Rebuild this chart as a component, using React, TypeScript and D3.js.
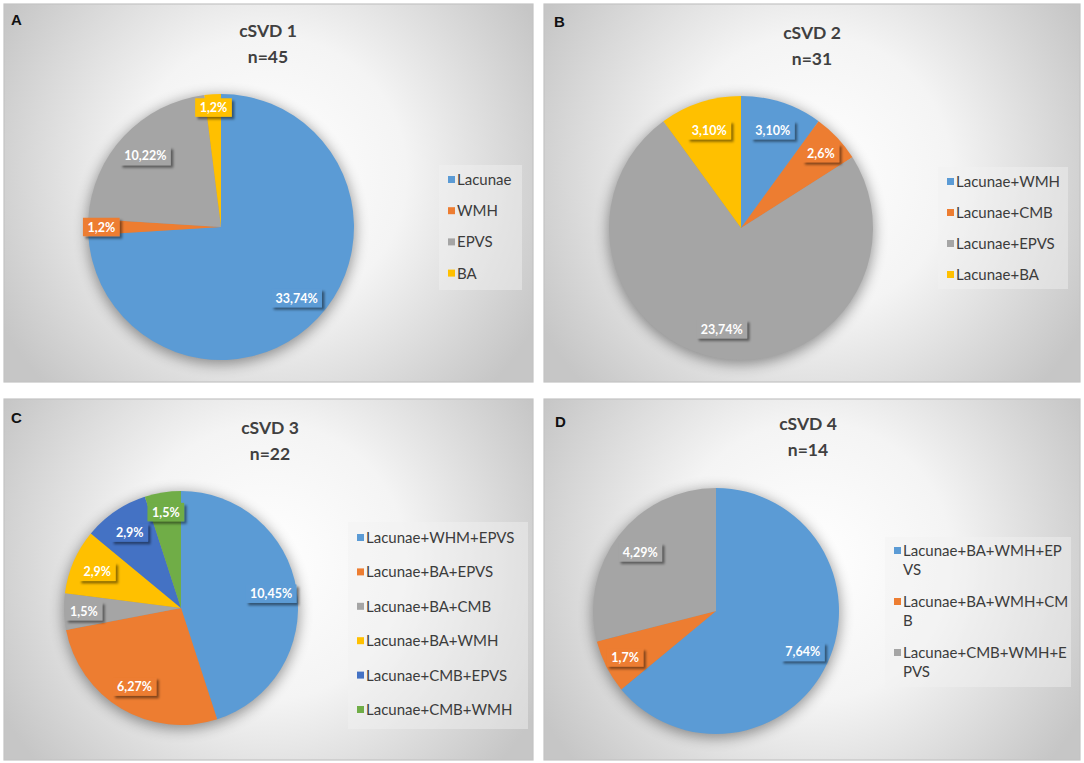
import * as d3 from "d3";

// panel A
const catsA = ["Lacunae", "WMH", "EPVS", "BA"];
const countsA = [33, 1, 10, 1];
const pctA = [74, 2, 22, 2];
// panel B
const catsB = ["Lacunae+WMH", "Lacunae+CMB", "Lacunae+EPVS", "Lacunae+BA"];
const countsB = [3, 2, 23, 3];
const pctB = [10, 6, 74, 10];
// panel C
const catsC = [
  "Lacunae+WHM+EPVS",
  "Lacunae+BA+EPVS",
  "Lacunae+BA+CMB",
  "Lacunae+BA+WMH",
  "Lacunae+CMB+EPVS",
  "Lacunae+CMB+WMH",
];
const countsC = [10, 6, 1, 2, 2, 1];
const pctC = [45, 27, 5, 9, 9, 5];
// panel D (legend labels wrap in the original)
const catsD = [
  ["Lacunae+BA+WMH+EP", "VS"],
  ["Lacunae+BA+WMH+CM", "B"],
  ["Lacunae+CMB+WMH+E", "PVS"],
];
const countsD = [7, 1, 4];
const pctD = [64, 7, 29];

const titles = ["cSVD 1", "cSVD 2", "cSVD 3", "cSVD 4"];
const sizes = ["n=45", "n=31", "n=22", "n=14"];
const letters = ["A", "B", "C", "D"];

const colorsMain = ["#5B9BD5", "#ED7D31", "#A5A5A5", "#FFC000", "#4472C4", "#70AD47"];

const FONT = "Lato, 'Open Sans', sans-serif";

type Layout = {
  x: number; y: number; w: number; h: number;
  cx: number; cy: number; r: number;
  lx: number; ly: number; lw: number; lh: number;
  itemY: number; itemStep: number; lineGap: number;
  tx: number; ty: number;
  letterX: number; letterY: number;
};

const layouts: Layout[] = [
  { x: 4, y: 4, w: 529, h: 378, cx: 221, cy: 227, r: 133, lx: 439, ly: 165, lw: 83, lh: 125, itemY: 180, itemStep: 31.2, lineGap: 19, tx: 268, ty: 37, letterX: 11, letterY: 25 },
  { x: 544, y: 4, w: 536, h: 378, cx: 741, cy: 228, r: 132, lx: 938, ly: 167, lw: 130, lh: 122, itemY: 182, itemStep: 31, lineGap: 19, tx: 812, ty: 39, letterX: 554, letterY: 27 },
  { x: 4, y: 399, w: 529, h: 361, cx: 181, cy: 608, r: 117, lx: 348, ly: 522, lw: 180, lh: 207, itemY: 538, itemStep: 34.4, lineGap: 19, tx: 270, ty: 434, letterX: 11, letterY: 423 },
  { x: 544, y: 399, w: 536, h: 361, cx: 716, cy: 611, r: 123, lx: 885, ly: 537, lw: 186, lh: 150, itemY: 551, itemStep: 51, lineGap: 19, tx: 808, ty: 430, letterX: 555, letterY: 427 },
];

const charW: Record<string, number> = { ",": 3.2, "%": 10.5 };
const labelWidth = (s: string) =>
  s.split("").reduce((a, c) => a + (charW[c] ?? 7), 0) + 9;

type PanelProps = {
  idx: number;
  cats: string[][];
  counts: number[];
  pct: number[];
};

const Panel = ({ idx, cats, counts, pct }: PanelProps) => {
  const L = layouts[idx];
  const pie = d3.pie<number>().sort(null).value((d) => d);
  const arcs = pie(pct);
  const arc = d3.arc<d3.PieArcDatum<number>>().innerRadius(0).outerRadius(L.r);
  const color = d3.scaleOrdinal<number, string>().domain(d3.range(cats.length)).range(colorsMain);
  const total = d3.sum(pct);

  return (
    <g>
      <rect x={L.x} y={L.y} width={L.w} height={L.h} fill={`url(#bg${idx})`} stroke="#c4c4c4" strokeWidth={1.2} />
      <text x={L.letterX} y={L.letterY} fontFamily="Arial, 'Liberation Sans', sans-serif" fontWeight="bold" fontSize={15} fill="#111">
        {letters[idx]}
      </text>
      <text x={L.tx} y={L.ty} textAnchor="middle" fontFamily={FONT} fontWeight="bold" fontSize={17.5} fill="#404040">
        {titles[idx]}
      </text>
      <text x={L.tx} y={L.ty + 26} textAnchor="middle" fontFamily={FONT} fontWeight="bold" fontSize={17.5} fill="#404040">
        {sizes[idx]}
      </text>
      <circle cx={L.cx} cy={L.cy + 3} r={L.r + 1} fill="#000" opacity={0.4} filter="url(#pieShadow)" />
      <g transform={`translate(${L.cx},${L.cy})`}>
        {arcs.map((a, i) => (
          <path key={i} d={arc(a) ?? ""} fill={color(i)} />
        ))}
        {arcs.map((a, i) => {
          const frac = a.value / total;
          const f = frac < 0.04 ? 0.9 : frac < 0.08 ? 0.83 : 0.78;
          const mid = (a.startAngle + a.endAngle) / 2;
          const px = Math.sin(mid) * L.r * f;
          const py = -Math.cos(mid) * L.r * f;
          const txt = `${counts[i]},${pct[i]}%`;
          const w = labelWidth(txt);
          const h = 18.5;
          return (
            <g key={i} transform={`translate(${px},${py})`}>
              <rect x={-w / 2} y={-h / 2} width={w} height={h} fill={color(i)} filter="url(#labelShadow)" />
              <text x={0} y={4.5} textAnchor="middle" fontFamily={FONT} fontWeight="bold" fontSize={12.5} fill="#fff">
                {txt}
              </text>
            </g>
          );
        })}
      </g>
      <rect x={L.lx} y={L.ly} width={L.lw} height={L.lh} fill="#f2f2f2" opacity={0.45} />
      {cats.map((lines, i) => {
        const y = L.itemY + i * L.itemStep;
        return (
          <g key={i}>
            <rect x={L.lx + 9} y={y - 4} width={7} height={7} fill={color(i)} />
            {lines.map((ln, j) => (
              <text key={j} x={L.lx + 18} y={y + 5 + j * L.lineGap} fontFamily={FONT} fontSize={15} fill="#3c3c3c">
                {ln}
              </text>
            ))}
          </g>
        );
      })}
    </g>
  );
};

export default function App() {
  return (
    <div style={{ position: "absolute", left: 0, top: 0 }}>
      <svg width={1084} height={763} style={{ display: "block", background: "#fff" }}>
        <defs>
          {layouts.map((L, i) => (
            <radialGradient
              key={i}
              id={`bg${i}`}
              gradientUnits="userSpaceOnUse"
              cx={L.x + L.w * 0.5}
              cy={L.y + L.h * 0.45}
              r={L.w * 0.58}
            >
              <stop offset="0%" stopColor="#ffffff" />
              <stop offset="45%" stopColor="#f4f4f4" />
              <stop offset="100%" stopColor="#c6c6c6" />
            </radialGradient>
          ))}
          <filter id="pieShadow" x="-30%" y="-30%" width="160%" height="160%">
            <feGaussianBlur stdDeviation={7} />
          </filter>
          <filter id="labelShadow" x="-30%" y="-40%" width="170%" height="190%">
            <feDropShadow dx={2.5} dy={2.5} stdDeviation={1.2} floodColor="#000" floodOpacity={0.45} />
          </filter>
        </defs>
        <Panel idx={0} cats={catsA.map((c) => [c])} counts={countsA} pct={pctA} />
        <Panel idx={1} cats={catsB.map((c) => [c])} counts={countsB} pct={pctB} />
        <Panel idx={2} cats={catsC.map((c) => [c])} counts={countsC} pct={pctC} />
        <Panel idx={3} cats={catsD} counts={countsD} pct={pctD} />
      </svg>
    </div>
  );
}
